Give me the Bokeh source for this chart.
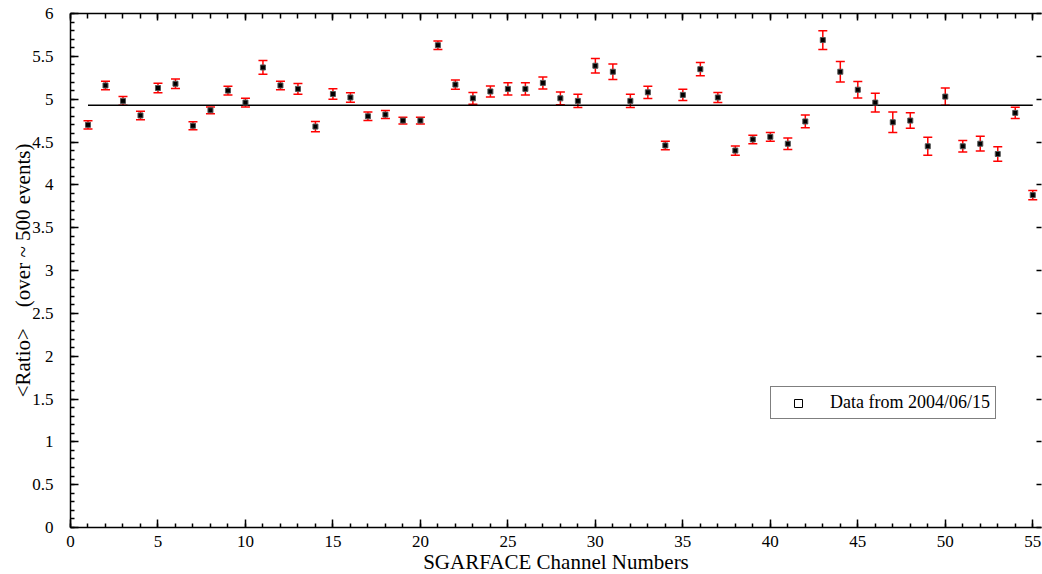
from bokeh.plotting import figure
from bokeh.models import (ColumnDataSource, Whisker, TeeHead, LinearAxis, SingleIntervalTicker,
                          Range1d, Legend, LegendItem, NumeralTickFormatter, CustomJSTickFormatter)
from bokeh.embed import file_html
from bokeh.resources import INLINE

channels = list(range(1, 56))
ratio = [4.70, 5.16, 4.98, 4.81, 5.13, 5.18, 4.69, 4.87, 5.10, 4.96,
         5.37, 5.16, 5.12, 4.68, 5.06, 5.02, 4.80, 4.82, 4.75, 4.75,
         5.63, 5.17, 5.01, 5.09, 5.12, 5.12, 5.19, 5.01, 4.98, 5.39,
         5.32, 4.98, 5.08, 4.46, 5.05, 5.35, 5.02, 4.40, 4.53, 4.56,
         4.48, 4.74, 5.69, 5.32, 5.11, 4.96, 4.73, 4.75, 4.45, 5.03,
         4.45, 4.48, 4.36, 4.84, 3.88]
error = [0.047, 0.050, 0.050, 0.050, 0.055, 0.055, 0.047, 0.040, 0.050, 0.050,
         0.080, 0.050, 0.064, 0.060, 0.062, 0.055, 0.050, 0.047, 0.040, 0.040,
         0.050, 0.055, 0.068, 0.064, 0.072, 0.072, 0.070, 0.074, 0.078, 0.086,
         0.090, 0.076, 0.072, 0.050, 0.066, 0.078, 0.058, 0.054, 0.050, 0.050,
         0.068, 0.074, 0.110, 0.120, 0.097, 0.110, 0.120, 0.090, 0.105, 0.100,
         0.068, 0.086, 0.084, 0.066, 0.053]
mean_ratio = 4.93
legend_label = "Data from 2004/06/15"
x_title = "SGARFACE Channel Numbers"
y_title = "<Ratio>\u00a0\u00a0\u00a0\u00a0(over ~ 500 events)"

FONT = "Liberation Serif"

src = ColumnDataSource(dict(
    x=channels, y=ratio,
    lower=[r - e for r, e in zip(ratio, error)],
    upper=[r + e for r, e in zip(ratio, error)],
))

p = figure(frame_width=971, frame_height=514, x_range=Range1d(0, 55.5), y_range=Range1d(0, 6),
           output_backend="svg", toolbar_location=None,
           min_border_left=70, min_border_right=1, min_border_top=13, min_border_bottom=44)
p.xgrid.visible = False
p.ygrid.visible = False
p.outline_line_color = None
p.background_fill_color = "white"
p.border_fill_color = "white"

def style_axis(ax, major_in=8, minor_in=4):
    ax.major_tick_in = major_in
    ax.major_tick_out = 0
    ax.minor_tick_in = minor_in
    ax.minor_tick_out = 0
    ax.axis_line_width = 1.5
    ax.axis_line_color = "black"
    ax.major_tick_line_width = 1.5
    ax.minor_tick_line_width = 1.5
    ax.major_tick_line_color = "black"
    ax.minor_tick_line_color = "black"
    ax.major_label_text_font = FONT
    ax.major_label_text_font_size = "17px"
    ax.major_label_text_color = "black"
    ax.axis_label_text_font = FONT
    ax.axis_label_text_font_size = "21px"
    ax.axis_label_text_font_style = "normal"
    ax.axis_label_text_color = "black"

xax = p.xaxis[0]
yax = p.yaxis[0]
xax.ticker = SingleIntervalTicker(interval=5, num_minor_ticks=5)
yax.ticker = SingleIntervalTicker(interval=0.5, num_minor_ticks=5)
yax.formatter = NumeralTickFormatter(format="0.[0]")
style_axis(xax)
style_axis(yax)
xax.axis_label = x_title
yax.axis_label = y_title
xax.major_label_standoff = 8
xax.axis_label_standoff = 0
yax.major_label_standoff = 17
yax.axis_label_standoff = -6

blank = CustomJSTickFormatter(code="return ''")
top = LinearAxis(ticker=SingleIntervalTicker(interval=5, num_minor_ticks=5), formatter=blank)
style_axis(top, 7, 5)
top.major_label_text_font_size = "0px"
top.major_label_standoff = 0
p.add_layout(top, "above")
right = LinearAxis(ticker=SingleIntervalTicker(interval=0.5, num_minor_ticks=5), formatter=blank)
style_axis(right, 5, 0)
right.axis_line_color = None
right.major_label_text_font_size = "0px"
right.major_label_standoff = 0
p.add_layout(right, "right")

p.segment(x0=channels[0], x1=channels[-1], y0=mean_ratio, y1=mean_ratio,
          line_color="black", line_width=1.5)

w = Whisker(base="x", lower="lower", upper="upper", source=src,
            line_color="red", line_width=1.5,
            upper_head=TeeHead(size=9, line_color="red", line_width=1.5),
            lower_head=TeeHead(size=9, line_color="red", line_width=1.5))
p.add_layout(w)

pts = p.scatter("x", "y", source=src, marker="square", size=5,
                fill_color="black", line_color="#555555", line_width=1)
leg_glyph = p.scatter(x=[channels[0]], y=[ratio[0]], marker="square", size=4,
                      fill_color="white", line_color="black", line_width=1, visible=False)

legend = Legend(items=[LegendItem(label=legend_label, renderers=[leg_glyph])],
                location=(700, 108))
legend.label_text_font = FONT
legend.label_text_font_size = "18px"
legend.label_text_color = "black"
legend.border_line_color = "black"
legend.border_line_width = 1.5
legend.padding = 5
legend.margin = 0
legend.glyph_width = 44
legend.label_standoff = 10
legend.background_fill_alpha = 1
p.add_layout(legend, "center")

open("out.html", "w").write(file_html(p, INLINE))
